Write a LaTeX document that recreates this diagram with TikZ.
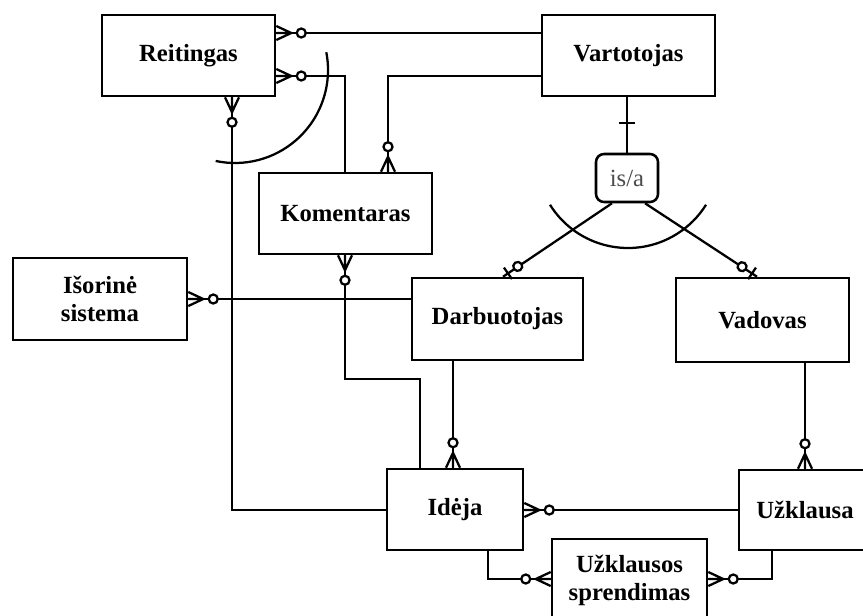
\documentclass[tikz,border=0pt]{standalone}
\usepackage{fontspec}
\setmainfont{Liberation Serif}
\usepackage{tikz}

% crow's foot with circle (zero or many), #1 point on the box, #2 outward angle
\newcommand{\manyopt}[2]{%
  \begin{scope}[shift={(#1)},rotate=#2]
    \draw (15,0) -- (0,-7) (15,0) -- (0,0) (15,0) -- (0,7);
    \draw[fill=white] (25,0) circle (4.5);
  \end{scope}}
% bar with circle (zero or one)
\newcommand{\oneopt}[2]{%
  \begin{scope}[shift={(#1)},rotate=#2]
    \draw (6,-7) -- (6,7);
    \draw[fill=white] (18,0) circle (4.5);
  \end{scope}}

\tikzset{
  ent/.style={draw, fill=white, inner sep=0pt, align=center, line width=1.9pt,
    minimum width=129.75pt, minimum height=60.75pt,
    font=\fontsize{18.5}{21}\selectfont\bfseries},
  isabox/.style={draw, rounded corners=6pt, inner sep=0pt, line width=1.9pt,
    minimum width=46.5pt, minimum height=36pt, text=black!70,
    font=\fontsize{18.5}{21}\selectfont}
}

\begin{document}
\begin{tikzpicture}[x=0.75pt,y=0.75pt,yscale=-1,xscale=1,line width=1.7pt]
  \useasboundingbox (0,0) rectangle (863,615);
  \clip (0,0) rectangle (863,615);

  % Entities
  \node[ent] (reit) at (188.5,55.5) {Reitingas};
  \node[ent] (vart) at (628.5,55.5) {Vartotojas};
  \node[isabox] (isa) at (627,178) {is/a};
  \node[ent] (koment) at (345.5,213.5) {Komentaras};
  \node[ent, minimum width=130.5pt, minimum height=61.5pt] (isor) at (100,299) {Išorinė\\sistema};
  \node[ent, minimum width=128.25pt, minimum height=61.5pt] (darb) at (497.5,319) {Darbuotojas};
  \node[ent, minimum height=63pt] (vad) at (762.5,320) {Vadovas};
  \node[ent, minimum width=102pt] (idea) at (455,509.5) {Idėja};
  \node[ent, minimum width=99pt, minimum height=60pt] (uzkl) at (805,510) {Užklausa};
  \node[ent, minimum width=116.25pt, minimum height=61.5pt] (sprend) at (629.5,580) {Užklausos\\sprendimas};

  % Connectors
  \draw (reit.east |- 0,33) -- (vart.west |- 0,33);
  \draw (reit.east |- 0,76) -| (koment.north -| 345,0);
  \draw (vart.west |- 0,76) -| (koment.north -| 388,0);
  \draw (reit.south -| 232,0) |- (idea.west |- 0,510);
  \draw (koment.south -| 345,0) -- (345,379) -| (idea.north -| 420,0);
  \draw (isor.east) -- (darb.west |- isor.east);
  \draw (darb.south -| 453,0) -- (idea.north -| 453,0);
  \draw (vad.south -| 805,0) -- (uzkl.north -| 805,0);
  \draw (idea.east |- 0,510) -- (uzkl.west |- 0,510);
  \draw (idea.south -| 488,0) |- (sprend.west |- 0,579);
  \draw (uzkl.south -| 772,0) |- (sprend.east |- 0,579);
  \draw (vart.south -| isa.north) -- (isa.north);
  \draw (vart.south -| isa.north) ++(-8,26) -- ++(16,0);
  \draw (isa.south -| 612,0) -- (darb.north -| 503,0);
  \draw (isa.south -| 645,0) -- (vad.north -| 757,0);

  % Exclusive arcs
  \draw (235,70) ++(-11:93) arc[start angle=-11, end angle=102, radius=93];
  \draw (628,156) ++(148:92) arc[start angle=148, end angle=32, radius=92];

  % Cardinality marks
  \manyopt{reit.east |- 0,33}{0}
  \manyopt{reit.east |- 0,76}{0}
  \manyopt{koment.north -| 388,0}{270}
  \manyopt{reit.south -| 232,0}{90}
  \manyopt{koment.south -| 345,0}{90}
  \manyopt{isor.east}{0}
  \manyopt{idea.north -| 453,0}{270}
  \manyopt{uzkl.north -| 805,0}{270}
  \manyopt{idea.east |- 0,510}{0}
  \manyopt{sprend.west |- 0,579}{180}
  \manyopt{sprend.east |- 0,579}{0}
  \oneopt{darb.north -| 503,0}{-35}
  \oneopt{vad.north -| 757,0}{214}

\end{tikzpicture}
\end{document}
